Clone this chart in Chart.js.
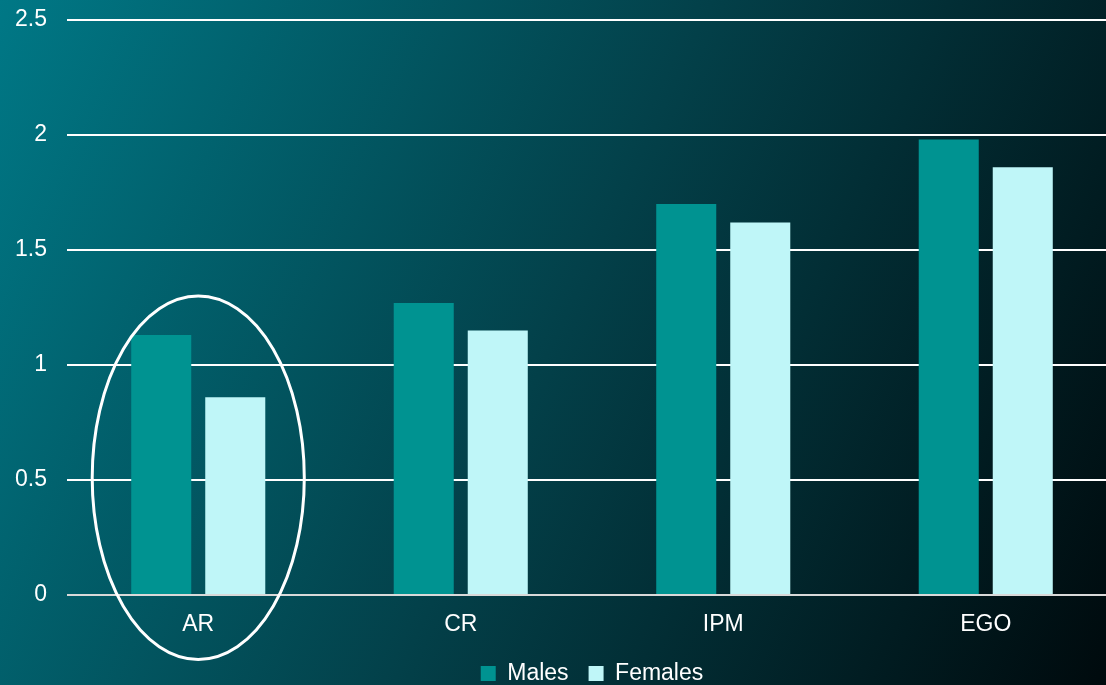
<!DOCTYPE html>
<html>
<head>
<meta charset="utf-8">
<script src="https://cdn.jsdelivr.net/npm/chart.js@4/dist/chart.umd.min.js"></script>
<style>
  html, body { margin: 0; padding: 0; }
  body {
    width: 1106px;
    height: 685px;
    overflow: hidden;
    background: linear-gradient(115deg, #007886 0%, #034049 50%, #000a0d 100%);
  }
  /* plot runs a little past the right edge of the page */
  #wrap { position: relative; width: 1117px; height: 685px; }
</style>
</head>
<body>
<div id="wrap"><canvas id="myChart"></canvas></div>
<script>
const grafico = document.getElementById("myChart");
const categories = ['AR', 'CR', 'IPM', 'EGO'];
const males = [1.13, 1.27, 1.70, 1.98];
const females = [0.86, 1.15, 1.62, 1.86];
const yTicks = [0, 0.5, 1, 1.5, 2, 2.5];

// ring around the first group
const ringPlugin = {
    id: 'ring',
    afterDatasetsDraw(chart) {
        const { ctx, scales: { x, y } } = chart;
        const cx = x.getPixelForValue(0);
        const cy = y.getPixelForValue(0.51);
        const rx = (x.getPixelForValue(1) - cx) * 0.404;
        const ry = y.getPixelForValue(0) - y.getPixelForValue(0.79);
        ctx.save();
        ctx.beginPath();
        ctx.ellipse(cx, cy, rx, ry, 0, 0, Math.PI * 2);
        ctx.strokeStyle = '#ffffff';
        ctx.lineWidth = 3;
        ctx.stroke();
        ctx.restore();
    }
};

Chart.defaults.font.family = '"Liberation Sans", Arial, sans-serif';
Chart.defaults.color = '#ffffff';

const myChart = new Chart(grafico, {
    type: 'bar',
    data: {
        labels: categories,
        datasets: [{
            label: 'Males',
            data: males,
            backgroundColor: '#009391',
            borderWidth: 0
        }, {
            label: 'Females',
            data: females,
            backgroundColor: '#bff6f8',
            borderWidth: 0
        }]
    },
    options: {
        responsive: true,
        maintainAspectRatio: false,
        animation: false,
        categoryPercentage: 0.564,
        barPercentage: 0.811,
        layout: { padding: { top: 20, right: 0, bottom: -10, left: 0 } },
        plugins: {
            legend: {
                position: 'bottom',
                fullSize: false,
                labels: {
                    boxWidth: 15,
                    boxHeight: 15,
                    padding: 20,
                    font: { size: 23 },
                    color: '#ffffff'
                }
            },
            tooltip: { enabled: false }
        },
        scales: {
            x: {
                grid: { display: false },
                border: { display: false },
                ticks: { font: { size: 23 }, color: '#ffffff', padding: 8 },
                afterFit(scale) { scale.height = 47; }
            },
            y: {
                min: yTicks[0],
                max: yTicks[yTicks.length - 1],
                afterBuildTicks(scale) { scale.ticks = yTicks.map(v => ({ value: v })); },
                ticks: {
                    font: { size: 23 },
                    color: '#ffffff',
                    padding: 20,
                    callback: (v) => String(v)
                },
                grid: {
                    color: (c) => c.tick && c.tick.value === 0 ? '#d9d9d9' : '#ffffff',
                    lineWidth: 2,
                    drawTicks: false
                },
                border: { display: false },
                afterFit(scale) {
                    scale.width = 67;
                    scale.paddingTop = 0;
                }
            }
        }
    },
    plugins: [ringPlugin]
});
</script>
</body>
</html>
